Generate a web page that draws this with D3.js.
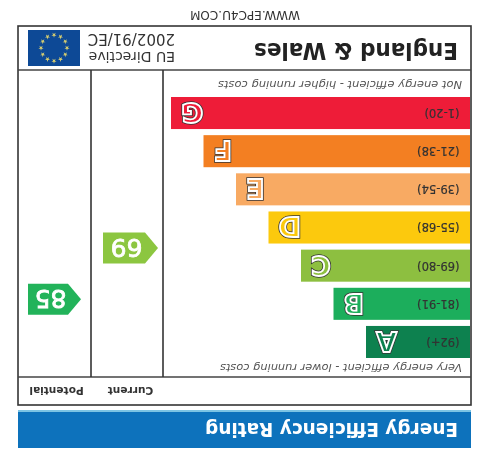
<!DOCTYPE html>
<html>
<head>
<meta charset="utf-8">
<script src="https://cdn.jsdelivr.net/npm/d3@7"></script>
<style>
html, body { margin: 0; padding: 0; background: #fff; }
svg { display: block; }
text { font-family: "DejaVu Sans", sans-serif; }
</style>
</head>
<body>
<div id="chart-area"></div>
<script>
var bands = ["A", "B", "C", "D", "E", "F", "G"];
var ranges = ["(92+)", "(81-91)", "(69-80)", "(55-68)", "(39-54)", "(21-38)", "(1-20)"];
var bandLength = [1, 2, 3, 4, 5, 6, 7];
var bandColors = ["#0f8150", "#1fae5b", "#8dbf3f", "#fcc90c", "#f8aa64", "#f37f22", "#ee1c39"];
var scoreLabels = ["Current", "Potential"];
var scores = [69, 85];
var scoreColors = ["#8cc63f", "#21b35a"];
var starAngles = [0, 30, 60, 90, 120, 150, 180, 210, 240, 270, 300, 330];

var width = 479, height = 449;

var svg = d3.select("#chart-area")
    .append("svg")
        .attr("width", width)
        .attr("height", height);

var defs = svg.append("defs");
defs.append("filter")
    .attr("id", "soft")
    .append("feGaussianBlur")
        .attr("stdDeviation", 0.5);

// The whole label is upside down in the reference
var g = svg.append("g")
    .attr("transform", "rotate(180 " + width / 2 + " " + height / 2 + ")")
    .attr("filter", "url(#soft)");

var frame = { left: 8, right: 461, top: 44, bottom: 423, header: 72, footer: 379 };
var col1 = 316, col2 = 388;

// Scales
var y = d3.scaleBand()
    .domain(bands)
    .range([91, 352])
    .paddingInner(0.16);

var x = d3.scaleLinear()
    .domain([0, 7])
    .range([80.5, 308]);

var yScore = d3.scaleLinear()
    .domain([0, 100])
    .range([421, 102]);

// Blue title bar
g.append("rect")
    .attr("x", frame.left)
    .attr("y", 1)
    .attr("width", frame.right - frame.left)
    .attr("height", 37)
    .attr("fill", "#0b72bc");
g.append("rect")
    .attr("x", frame.left)
    .attr("y", 37)
    .attr("width", frame.right - frame.left)
    .attr("height", 2)
    .attr("fill", "#7cc4e4");

g.append("text")
    .attr("x", 21)
    .attr("y", 26)
    .attr("font-size", "20px")
    .attr("font-weight", "bold")
    .attr("fill", "#fff")
    .attr("textLength", 253)
    .attr("lengthAdjust", "spacingAndGlyphs")
    .text("Energy Efficiency Rating");

// Frame
g.append("rect")
    .attr("x", frame.left)
    .attr("y", frame.top)
    .attr("width", frame.right - frame.left)
    .attr("height", frame.bottom - frame.top)
    .attr("fill", "#fff")
    .attr("stroke", "#333")
    .attr("stroke-width", 1.6);

[frame.header, frame.footer].forEach(function(d) {
    g.append("line")
        .attr("x1", frame.left)
        .attr("x2", frame.right)
        .attr("y1", d)
        .attr("y2", d)
        .attr("stroke", "#444")
        .attr("stroke-width", 1.5);
});

[col1, col2].forEach(function(d) {
    g.append("line")
        .attr("x1", d)
        .attr("x2", d)
        .attr("y1", frame.header)
        .attr("y2", frame.footer)
        .attr("stroke", "#333")
        .attr("stroke-width", 1.6);
});

// Column headings
g.selectAll(".col-label")
    .data(scoreLabels)
    .enter().append("text")
        .attr("class", "col-label")
        .attr("x", function(d, i) { return i == 0 ? 348.5 : 422.5; })
        .attr("y", 62)
        .attr("text-anchor", "middle")
        .attr("font-size", "10.6px")
        .attr("font-weight", "bold")
        .attr("fill", "#333")
        .text(function(d) { return d; });

// Band captions
g.append("text")
    .attr("x", 17)
    .attr("y", 85)
    .attr("font-size", "10.5px")
    .attr("font-style", "italic")
    .attr("fill", "#555")
    .attr("textLength", 242)
    .attr("lengthAdjust", "spacingAndGlyphs")
    .text("Very energy efficient - lower running costs");

g.append("text")
    .attr("x", 17)
    .attr("y", 368)
    .attr("font-size", "10.5px")
    .attr("font-style", "italic")
    .attr("fill", "#555")
    .attr("textLength", 244)
    .attr("lengthAdjust", "spacingAndGlyphs")
    .text("Not energy efficient - higher running costs");

// Bars
g.selectAll(".band")
    .data(bands)
    .enter().append("rect")
        .attr("class", "band")
        .attr("x", 9)
        .attr("y", function(d) { return y(d); })
        .attr("width", function(d, i) { return x(bandLength[i]) - 9; })
        .attr("height", y.bandwidth())
        .attr("fill", function(d, i) { return bandColors[i]; });

g.selectAll(".range")
    .data(ranges)
    .enter().append("text")
        .attr("class", "range")
        .attr("x", 19.5)
        .attr("y", function(d, i) { return y(bands[i]) + y.bandwidth() / 2 + 4; })
        .attr("font-size", "11.5px")
        .attr("fill", "#333")
        .attr("stroke", "#333")
        .attr("stroke-width", 0.2)
        .text(function(d) { return d; });

// Letters: bar coloured core, white outline, thin dark edge
var letterLayers = [
    { name: "edge", stroke: "#333", width: 3.4 },
    { name: "outline", stroke: "#fff", width: 1.8 }
];
letterLayers.forEach(function(layer) {
    g.selectAll(".letter-" + layer.name)
        .data(bands)
        .enter().append("text")
            .attr("class", "letter-" + layer.name)
            .attr("x", function(d, i) { return x(bandLength[i]) - 10; })
            .attr("y", function(d) { return y(d) + y.bandwidth() / 2 + 10; })
            .attr("text-anchor", "end")
            .attr("font-size", "27px")
            .attr("font-weight", "bold")
            .attr("fill", function(d, i) { return bandColors[i]; })
            .attr("stroke", layer.stroke)
            .attr("stroke-width", layer.width)
            .text(function(d) { return d; });
});

// Score arrows
var arrowSpec = [{ left: 321, right: 376 }, { left: 398, right: 451 }];
g.selectAll(".arrow")
    .data(scores)
    .enter().append("path")
        .attr("class", "arrow")
        .attr("d", function(d, i) {
            var c = yScore(d), a = arrowSpec[i], h = 15.5, tip = 13;
            return "M" + a.left + "," + c +
                "L" + (a.left + tip) + "," + (c - h) +
                "L" + a.right + "," + (c - h) +
                "L" + a.right + "," + (c + h) +
                "L" + (a.left + tip) + "," + (c + h) + "Z";
        })
        .attr("fill", function(d, i) { return scoreColors[i]; });

g.selectAll(".score")
    .data(scores)
    .enter().append("text")
        .attr("class", "score")
        .attr("x", function(d, i) { return (arrowSpec[i].left + arrowSpec[i].right) / 2 + 4; })
        .attr("y", function(d) { return yScore(d) + 9; })
        .attr("text-anchor", "middle")
        .attr("font-size", "25px")
        .attr("fill", "#fff")
        .attr("stroke", "#fff")
        .attr("stroke-width", 0.8)
        .text(function(d) { return d; });

// Header
g.append("text")
    .attr("x", 21)
    .attr("y", 406)
    .attr("font-size", "23px")
    .attr("font-weight", "bold")
    .attr("fill", "#222")
    .attr("textLength", 204)
    .attr("lengthAdjust", "spacingAndGlyphs")
    .text("England & Wales");

g.append("text")
    .attr("x", 304)
    .attr("y", 397)
    .attr("font-size", "14px")
    .attr("fill", "#333")
    .text("EU Directive");

g.append("text")
    .attr("x", 304)
    .attr("y", 415)
    .attr("font-size", "15px")
    .attr("fill", "#333")
    .text("2002/91/EC");

// EU flag
g.append("rect")
    .attr("x", 399)
    .attr("y", 383)
    .attr("width", 52)
    .attr("height", 36)
    .attr("fill", "#0f4a96");

g.selectAll(".star")
    .data(starAngles)
    .enter().append("path")
        .attr("class", "star")
        .attr("d", d3.symbol().type(d3.symbolStar).size(8))
        .attr("transform", function(d) {
            var a = d * Math.PI / 180;
            return "translate(" + (425 + 13 * Math.cos(a)) + "," + (401 + 13 * Math.sin(a)) + ")";
        })
        .attr("fill", "#d8cf70");

// Site name
g.append("text")
    .attr("x", 179)
    .attr("y", 438)
    .attr("font-size", "11.5px")
    .attr("fill", "#333")
    .attr("textLength", 110)
    .attr("lengthAdjust", "spacingAndGlyphs")
    .text("WWW.EPC4U.COM");
</script>
</body>
</html>
